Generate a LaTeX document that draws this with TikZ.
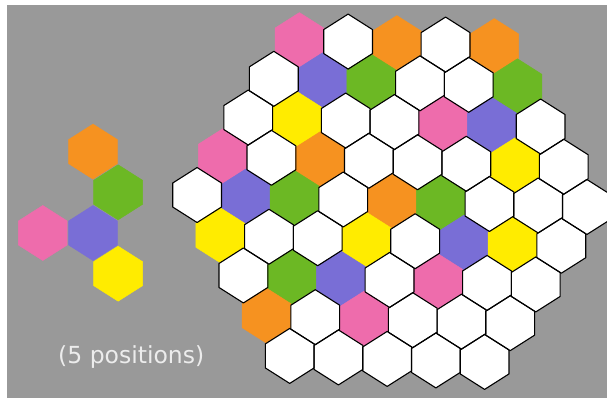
\documentclass[tikz,border=0pt]{standalone}
\usepackage{fontspec}
\newfontfamily\labelfont{DejaVu Sans}
\definecolor{bg}{RGB}{153,153,153}
\definecolor{hpink}{RGB}{238,108,172}
\definecolor{hpurple}{RGB}{121,110,214}
\definecolor{hgreen}{RGB}{108,184,36}
\definecolor{horange}{RGB}{246,146,32}
\definecolor{hyellow}{RGB}{255,236,0}
\definecolor{txt}{RGB}{236,236,236}
\tikzset{
  hex/.pic={\path[pic actions] (0,-27.5) -- (24.4,-12) -- (24.4,12) -- (0,27.5) -- (-24.4,12) -- (-24.4,-12) -- cycle;},
  cP/.style={fill=hpink,draw=hpink,line width=0.5pt},
  cU/.style={fill=hpurple,draw=hpurple,line width=0.5pt},
  cG/.style={fill=hgreen,draw=hgreen,line width=0.5pt},
  cO/.style={fill=horange,draw=horange,line width=0.5pt},
  cY/.style={fill=hyellow,draw=hyellow,line width=0.5pt},
  cW/.style={fill=white},
  oP/.style={}, oU/.style={}, oG/.style={}, oO/.style={}, oY/.style={},
  oW/.style={draw=black,line width=1.1pt,line join=round},
}
\begin{document}
\begin{tikzpicture}[x=1pt,y=-1pt]
\useasboundingbox (0,0) rectangle (607,398);
\fill[white] (0,0) rectangle (607,398);
\fill[bg] (7,5) rectangle (607,398);
% big board
\begin{scope}[shift={(392,201)}, rotate=-1.76]
\foreach \pass in {c,o}{
\foreach \r/\row in {0/{P,W,O,W,O},1/{W,U,G,W,W,G},2/{W,Y,W,W,P,U,W},3/{P,W,O,W,W,W,Y,W},4/{W,U,G,W,O,G,W,W,W},5/{Y,W,W,Y,W,U,Y,W},6/{W,G,U,W,P,W,W},7/{O,W,P,W,W,W},8/{W,W,W,W,W}}{
  \pgfmathsetmacro\n{9-abs(\r-4)}
  \foreach \c [count=\k from 0] in \row {
    \pic[\pass\c] at ({(\k-(\n-1)/2)*48.75},{(\r-4)*39.5}) {hex};
  }
}}
\end{scope}
% piece
\begin{scope}[shift={(93,233)}, scale=1.03]
\pic[cU] at (0,0) {hex};
\pic[cP] at (-48.75,0) {hex};
\pic[cG] at (24.4,-39.5) {hex};
\pic[cO] at (0,-79) {hex};
\pic[cY] at (24.4,39.5) {hex};
\end{scope}
\node[anchor=base west, inner sep=0pt, text=txt, font=\labelfont\fontsize{23.5}{28}\selectfont] (lbl) at (58,363) {(5 positions)};
\end{tikzpicture}
\end{document}
